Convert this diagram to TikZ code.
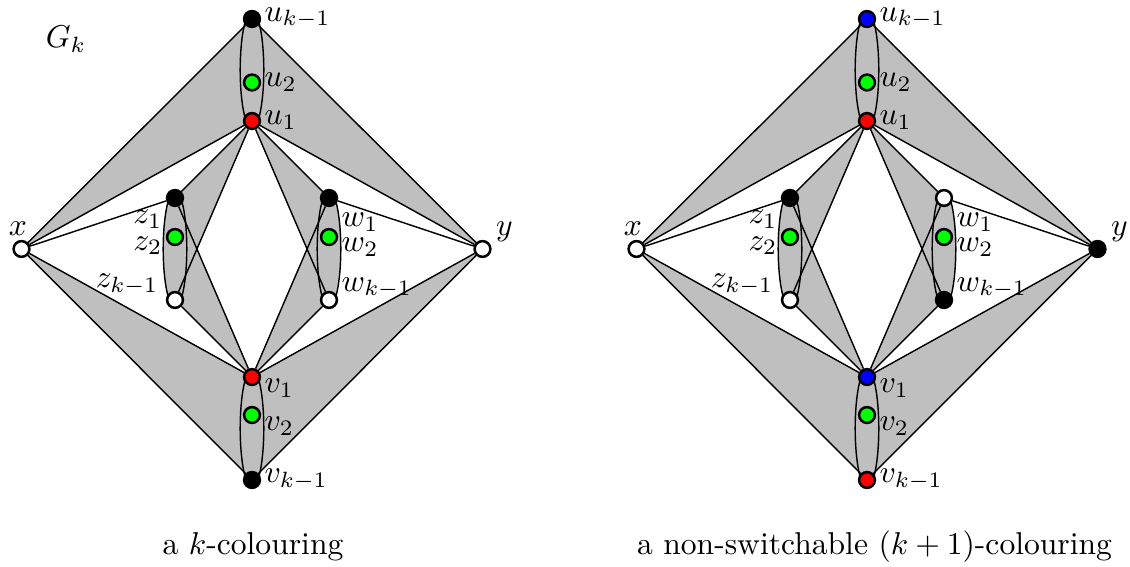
\documentclass[tikz,border=0pt]{standalone}
\pgfdeclarelayer{back}
\pgfdeclarelayer{mid}
\pgfsetlayers{back,mid,main}
\colorlet{Lcx}{white}\colorlet{Lcy}{white}
\colorlet{Lcuk}{black}\colorlet{Lcutwo}{green}\colorlet{Lcuone}{red}
\colorlet{Lczone}{black}\colorlet{Lcztwo}{green}\colorlet{Lczk}{white}
\colorlet{Lcwone}{black}\colorlet{Lcwtwo}{green}\colorlet{Lcwk}{white}
\colorlet{Lcvone}{red}\colorlet{Lcvtwo}{green}\colorlet{Lcvk}{black}
\colorlet{Rcx}{white}\colorlet{Rcy}{black}
\colorlet{Rcuk}{blue}\colorlet{Rcutwo}{green}\colorlet{Rcuone}{red}
\colorlet{Rczone}{black}\colorlet{Rcztwo}{green}\colorlet{Rczk}{white}
\colorlet{Rcwone}{white}\colorlet{Rcwtwo}{green}\colorlet{Rcwk}{black}
\colorlet{Rcvone}{blue}\colorlet{Rcvtwo}{green}\colorlet{Rcvk}{red}
\tikzset{
  vtx/.style={circle,draw=black,line width=0.8pt,minimum size=5.0pt,inner sep=0pt},
  lab/.style={inner sep=0pt},
  shadearea/.style={fill=gray!50,draw=none},
  blob/.style={fill=gray!50,draw=black,line width=0.45pt},
  edgeline/.style={draw=black,line width=0.45pt},
}
\newcommand\drawGk[2]{%
\begin{scope}[shift={(#2,0)}]
  \node[vtx,fill=#1cx] (#1x) at (21.5,249) {};
  \node[vtx,fill=#1cy] (#1y) at (482.5,249) {};
  \node[vtx,fill=#1cuk] (#1uk) at (252,19) {};
  \node[vtx,fill=#1cutwo] (#1u2) at (252,82.5) {};
  \node[vtx,fill=#1cuone] (#1u1) at (252,121) {};
  \node[vtx,fill=#1czone] (#1z1) at (175,198) {};
  \node[vtx,fill=#1cztwo] (#1z2) at (175,237) {};
  \node[vtx,fill=#1czk] (#1zk) at (175,300) {};
  \node[vtx,fill=#1cwone] (#1w1) at (329,198) {};
  \node[vtx,fill=#1cwtwo] (#1w2) at (329,237) {};
  \node[vtx,fill=#1cwk] (#1wk) at (329,300) {};
  \node[vtx,fill=#1cvone] (#1v1) at (252,377) {};
  \node[vtx,fill=#1cvtwo] (#1v2) at (252,415) {};
  \node[vtx,fill=#1cvk] (#1vk) at (252,480) {};
  % labels
  \node[lab,anchor=west] (#1luk) at (264,18) {$u_{k-1}$};
  \node[lab,anchor=west] (#1lu2) at (264,82) {$u_2$};
  \node[lab,anchor=west] (#1lu1) at (264,120) {$u_1$};
  \node[lab,anchor=west] (#1lv1) at (264,388.5) {$v_1$};
  \node[lab,anchor=west] (#1lv2) at (264,426) {$v_2$};
  \node[lab,anchor=west] (#1lvk) at (264,479.5) {$v_{k-1}$};
  \node[lab,anchor=west] (#1lw1) at (341,222.3) {$w_1$};
  \node[lab,anchor=west] (#1lw2) at (341,247.3) {$w_2$};
  \node[lab,anchor=west] (#1lwk) at (341,288) {$w_{k-1}$};
  \node[lab,anchor=east] (#1lz1) at (163,219) {$z_1$};
  \node[lab,anchor=east] (#1lz2) at (163,245.6) {$z_2$};
  \node[lab,anchor=east] (#1lzk) at (159,284.5) {$z_{k-1}$};
  \node[lab] (#1lx) at (18,229) {$x$};
  \node[lab] (#1ly) at (504.5,231.5) {$y$};
  \begin{pgfonlayer}{back}
    \fill[shadearea] (#1x.center) -- (#1uk.center) -- (#1u1.center) -- cycle;
    \fill[shadearea] (#1y.center) -- (#1uk.center) -- (#1u1.center) -- cycle;
    \fill[shadearea] (#1x.center) -- (#1vk.center) -- (#1v1.center) -- cycle;
    \fill[shadearea] (#1y.center) -- (#1vk.center) -- (#1v1.center) -- cycle;
    \fill[shadearea] (#1u1.center) -- (#1z1.center) -- (#1zk.center) -- cycle;
    \fill[shadearea] (#1v1.center) -- (#1z1.center) -- (#1zk.center) -- cycle;
    \fill[shadearea] (#1u1.center) -- (#1w1.center) -- (#1wk.center) -- cycle;
    \fill[shadearea] (#1v1.center) -- (#1w1.center) -- (#1wk.center) -- cycle;
  \end{pgfonlayer}
  \begin{pgfonlayer}{mid}
    \draw[blob] (252,70) ellipse [x radius=11.8, y radius=59];
    \draw[blob] (175,249) ellipse [x radius=11.8, y radius=58.5];
    \draw[blob] (329,249) ellipse [x radius=11.8, y radius=58.5];
    \draw[blob] (252,428.5) ellipse [x radius=11.8, y radius=59.5];
    \draw[edgeline] (#1x) -- (#1uk);
    \draw[edgeline] (#1x) -- (#1u1);
    \draw[edgeline] (#1x) -- (#1z1);
    \draw[edgeline] (#1x) -- (#1v1);
    \draw[edgeline] (#1x) -- (#1vk);
    \draw[edgeline] (#1y) -- (#1uk);
    \draw[edgeline] (#1y) -- (#1u1);
    \draw[edgeline] (#1y) -- (#1w1);
    \draw[edgeline] (#1y) -- (#1v1);
    \draw[edgeline] (#1y) -- (#1vk);
    \draw[edgeline] (#1u1) -- (#1z1);
    \draw[edgeline] (#1u1) -- (#1zk);
    \draw[edgeline] (#1u1) -- (#1w1);
    \draw[edgeline] (#1u1) -- (#1wk);
    \draw[edgeline] (#1v1) -- (#1z1);
    \draw[edgeline] (#1v1) -- (#1zk);
    \draw[edgeline] (#1v1) -- (#1w1);
    \draw[edgeline] (#1v1) -- (#1wk);
  \end{pgfonlayer}
\end{scope}}
\begin{document}
\begin{tikzpicture}[x=0.3165pt,y=-0.3165pt]
  \useasboundingbox (0,0) rectangle (1130,567);
  \drawGk{L}{0}
  \drawGk{R}{615}
  \node[lab] (gk) at (66,39) {$G_k$};
  \node[lab,anchor=base] (capL) at (253,555) {a $k$-colouring};
  \node[lab,anchor=base] (capR) at (874.5,555) {a non-switchable $(k+1)$-colouring};
\end{tikzpicture}
\end{document}
